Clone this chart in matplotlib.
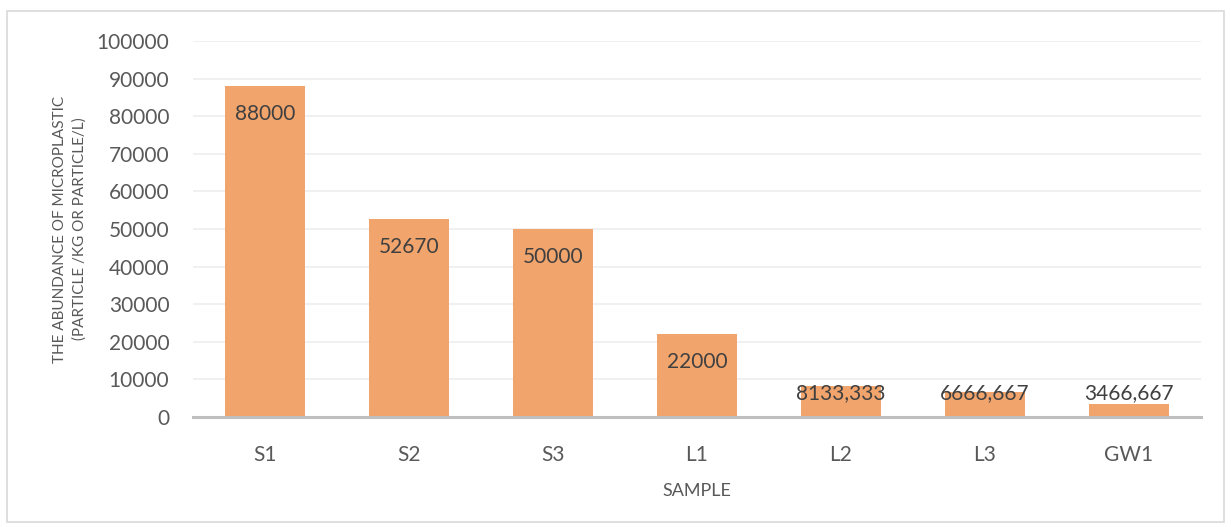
import matplotlib
matplotlib.use("Agg")
import matplotlib.pyplot as plt
from matplotlib.patches import Rectangle

samples = ["S1", "S2", "S3", "L1", "L2", "L3", "GW1"]
abundance = [88000, 52670, 50000, 22000, 8133.333, 6666.667, 3466.667]
value_labels = ["88000", "52670", "50000", "22000", "8133,333", "6666,667", "3466,667"]
yticks = [0, 10000, 20000, 30000, 40000, 50000, 60000, 70000, 80000, 90000, 100000]

plt.rcParams['font.family'] = ['Lato', 'DejaVu Sans']
W, H = 1231, 527
fig = plt.figure(figsize=(W/100, H/100), dpi=100)
ax = fig.add_axes([193/W, 1 - 417/H, (1201-193)/W, (417-41)/H])

bar_color = "#F1A46C"
text_color = "#595959"
x = list(range(len(samples)))
ax.bar(x, abundance, width=0.555, color=bar_color, zorder=3)
ax.set_xlim(-0.5, len(samples) - 0.5)
ax.set_ylim(0, 100000)
ax.set_yticks(yticks)
ax.set_yticklabels([str(v) for v in yticks])
ax.set_xticks(x)
ax.set_xticklabels(samples)
ax.tick_params(axis='both', length=0, labelsize=15, colors=text_color)
ax.tick_params(axis='y', pad=17)
ax.tick_params(axis='x', pad=20)
ax.grid(axis='y', color="#EDEDED", linewidth=1.2, zorder=0)
for s in ["top", "right", "left"]:
    ax.spines[s].set_visible(False)
ax.spines["bottom"].set_color("#BFBFBF")
ax.spines["bottom"].set_linewidth(2.2)
ax.spines["bottom"].set_zorder(4)

for xi, v, lab in zip(x, abundance, value_labels):
    ypos = max(v - 7450, 6380)
    ax.text(xi, ypos, lab, ha='center', va='center', fontsize=15, color="#404040", zorder=5)

ax.set_xlabel("SAMPLE", fontsize=13, color=text_color, labelpad=13)
ax.set_ylabel("THE ABUNDANCE OF MICROPLASTIC\n(PARTICLE /KG OR PARTICLE/L)", fontsize=11,
              color=text_color, labelpad=7, linespacing=1.45)

fig.patches.append(Rectangle((7/W, 5/H), (1224-7)/W, (516-5)/H, transform=fig.transFigure,
                             fill=False, edgecolor="#D9D9D9", linewidth=1.2))
fig.savefig("out.png", dpi=100, facecolor="white")
